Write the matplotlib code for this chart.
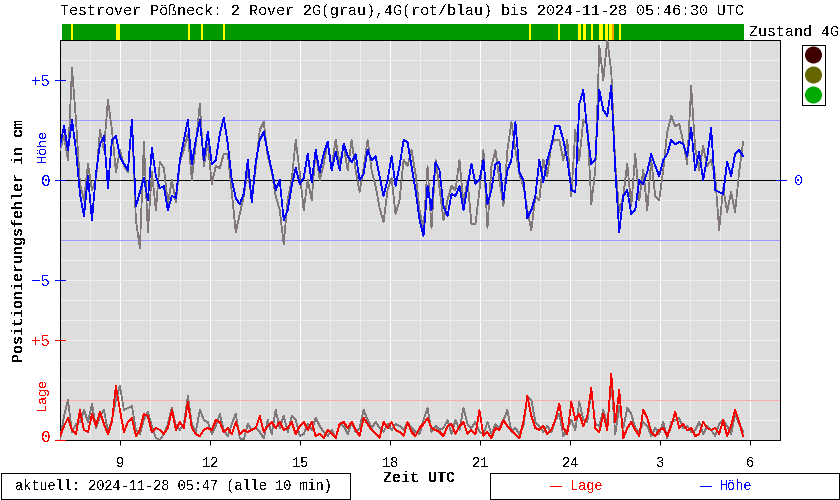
"""Testrover position error chart, rebuilt from the picture."""

import matplotlib
matplotlib.use("Agg")
import matplotlib.pyplot as plt
import matplotlib.patches as mpatches
import numpy as np

W, H = 840, 500
START_H = 7.0
END_H = 29.77
LAGE_BASE = -13.0  # the Lage panel shares the axes, its zero sits at -13
LW = 0.72  # one pixel at dpi 100
DATA_LW = 0.55

TITLE = "Testrover Pößneck: 2 Rover 2G(grau),4G(rot/blau) bis 2024-11-28 05:46:30 UTC"
FOOT_LEFT = "aktuell: 2024-11-28 05:47 (alle 10 min)"
HOUR_TICKS = [9, 12, 15, 18, 21, 24, 27, 30]
HOUR_LABELS = ["9", "12", "15", "18", "21", "24", "3", "6"]

# hours, from the strip above the plot
YELLOW_START = [7.37, 8.87, 11.27, 11.7, 12.43, 22.63, 23.6, 24.27, 24.43, 24.7, 24.97, 25.17, 25.3, 25.63]
YELLOW_LEN = [0.07, 0.13, 0.07, 0.07, 0.07, 0.07, 0.07, 0.1, 0.1, 0.06, 0.13, 0.1, 0.1, 0.07]
ORANGE_START = [25.4]
ORANGE_LEN = [0.07]

HOEHE_4G = [
    1.7, 2.7, 1.5, 3.0, 1.5, -0.7, -1.8, 0.2, -2.0, 0.3, 1.8, 2.2, -0.4, 2.0, 2.2, 1.2, 0.8, 0.5, 3.0,
    -1.3, -0.6, 0.1, -1.0, 1.6, 0.2, -0.4, -0.3, -1.5, -0.8, -0.9, 1.0, 2.0, 3.0, 0.8, 2.0, 3.0, 1.0,
    2.4, 0.8, 1.0, 2.3, 3.1, 1.8, 0.0, -0.9, -1.2, -0.7, 1.0, -1.1, 0.9, 2.0, 2.4, 1.4, 0.5, -0.5,
    0.0, -2.0, -1.5, -0.3, 0.6, -0.2, 0.1, 1.3, -0.1, 1.5, 0.4, 1.3, 1.9, 0.5, 1.4, 0.5, 1.8, 1.2, 0.9,
    1.3, 0.0, 0.3, 1.5, 1.0, 1.2, 0.2, -0.8, 0.0, 1.2, -0.3, 0.7, 2.0, 1.9, 0.7, -0.5, -2.0, -2.8, -0.3,
    -1.5, 0.9, 0.5, -1.3, -1.8, -0.7, -0.8, -0.3, -1.5, -0.3, 0.8, -0.2, 0.0, 1.0, -1.2, -0.5, 0.8, 0.9,
    -1.0, 0.5, 1.0, 2.9, 0.4, 0.0, -1.9, -1.5, -0.8, 1.0, -0.1, 1.0, 1.7, 2.7,
    2.7, 2.0, 1.0, -0.5, -0.6, 3.8, 4.5, 2.4, 0.8, 1.0, 4.5, 3.5, 3.2, 4.7, 0.5, -2.6, -0.8, -0.5, -1.7,
    -1.5, 0.0, -0.2, 0.4, 1.3, 0.7, 0.2, 1.0, 1.3, 2.0, 1.8, 1.9, 1.8, 1.2, 2.6, 0.5, 1.4, 0.0, 1.1, 2.6,
    -0.5, -0.6, -0.7, 0.9, 0.2, 1.3, 1.5, 1.2,
]
HOEHE_2G = [
    1.5, 2.2, 1.0, 5.6, 3.0, -0.2, -1.0, 0.8, -0.5, 0.0, 2.5, 1.5, 4.0, 2.5, 0.4, 1.5, 0.7, 0.4, 3.0,
    -2.0, -3.4, 1.9, -2.6, 0.4, -1.5, 0.9, 0.6, -1.2, 0.0, -1.1, 0.9, 1.5, 2.3, 0.0, 1.8, 3.8, 0.7, 1.8,
    -0.2, 0.7, 0.6, 1.3, 1.3, -0.6, -2.6, -1.7, -0.8, 0.5, -1.0, 0.6, 2.5, 2.9, 1.2, 0.4, -0.8,
    -1.5, -3.2, -1.0, 0.0, 2.0, 0.4, -1.5, 0.0, -1.0, 1.5, 0.0, 0.8, 1.9, 0.6, 2.0, 0.8, 1.7, 0.5, 2.0,
    0.5, -0.6, 0.6, 2.0, 0.5, -0.3, -1.4, -2.1, -0.5, 0.1, -1.7, -1.0, 1.0, 0.7, 1.5, 0.3, -1.5, -2.5,
    0.7, -2.4, 1.0, -0.4, -2.0, -1.0, -0.3, -0.5, 1.0, -1.2, 0.0, -2.2, -2.2, -0.5, 1.5, -2.4, 0.7, 1.5,
    0.0, -1.3, 1.5, 2.9, 1.5, 0.3, -0.3, -1.5, -2.5, -0.8, -1.0, 1.0, 0.2, 1.8, 2.0,
    2.0, 1.0, 2.0, -0.8, 2.5, 1.0, 3.0, 2.8, -1.2, 0.5, 6.7, 5.0, 7.0, 5.4, 0.8, -1.6, -0.8, 0.8, -1.3,
    1.3, -1.0, 0.5, -1.5, 1.0, -0.8, -1.0, 0.5, 2.4, 3.2, 2.7, 2.8, 1.9, 0.8, 4.7, 1.6, 0.5, 1.7, 0.7, 1.0,
    0.2, -2.5, -0.4, -1.6, -0.6, -1.6, 0.4, 1.9,
]
LAGE_4G = [
    0.2, 0.7, 1.1, 0.5, 0.3, 1.5, 0.5, 0.4, 1.3, 0.7, 1.4, 0.8, 0.3, 0.9, 2.7, 1.5, 0.4, 0.9, 1.1, 0.2,
    0.5, 1.3, 1.2, 0.4, 0.6, 0.5, 0.3, 0.6, 1.5, 0.5, 0.9, 0.6, 1.9, 0.6, 0.3, 0.2, 0.5, 0.6, 0.5, 1.0,
    0.9, 0.4, 0.6, 0.3, 0.9, 0.3, 0.5, 0.4, 0.5, 0.6, 1.2, 0.4, 0.7, 0.9, 0.6, 0.9, 0.5, 0.6, 0.9, 0.3,
    0.7, 0.9, 0.5, 0.9, 0.2, 0.3, 0.1, 0.5, 0.3, 0.1, 0.8, 0.9, 0.6, 0.9, 0.5, 0.2, 1.1, 0.8, 0.5, 0.3,
    0.1, 0.9, 0.6, 0.9, 0.5,
    0.4, 0.2, 0.9, 0.4, 0.2, 0.6, 0.8, 1.1, 0.6, 0.5, 0.4, 0.2, 0.7, 0.8, 0.3, 0.7, 0.9, 0.3, 0.5, 0.3,
    1.5, 0.2, 0.4, 0.1, 0.6, 0.5, 1.0, 0.7, 0.5, 0.3, 0.1, 0.9, 2.2, 1.2, 0.6, 0.5, 0.7, 0.3, 0.5, 1.0,
    1.8, 0.6, 0.3, 1.9, 1.0, 1.3, 0.7, 1.2, 2.6, 0.6, 0.4, 1.3, 0.5, 3.3, 0.9, 2.5, 0.1, 0.6, 0.9, 0.5,
    0.2, 1.5, 1.1, 0.4, 0.2, 0.5, 0.6, 0.2, 0.7, 1.4, 0.6, 0.8, 0.5, 0.6, 0.2, 0.3, 0.9, 0.6, 0.5, 0.6,
    0.3, 1.0, 0.2, 0.7, 1.5, 0.9, 0.2,
]
LAGE_2G = [
    0.0, 1.2, 2.0, 0.4, 0.8, 0.9, 1.5, 0.9, 1.8, 0.6, 1.2, 1.5, 0.4, 1.0, 2.0, 2.7, 1.5, 1.6, 1.7, 0.5,
    0.3, 1.0, 1.4, 0.7, 0.1, 0.0, 0.3, 0.8, 1.6, 0.7, 0.5, 0.8, 2.2, 0.8, 0.4, 1.5, 1.0, 0.9, 0.3, 0.7,
    1.3, 0.5, 0.2, 0.8, 1.3, 0.1, 0.0, 0.8, 0.5, 0.6, 0.4, 0.1, 1.0, 0.3, 1.5, 0.6, 1.2, 0.4, 1.2, 1.0,
    0.2, 0.3, 0.8, 0.5, 1.1, 0.7, 0.4, 0.2, 0.5, 0.1, 0.8, 0.7, 0.3, 0.9, 0.4, 0.6, 1.5, 1.0, 0.6, 0.9,
    0.6, 0.4, 0.8, 0.5, 0.8,
    0.7, 0.5, 0.9, 0.6, 0.4, 0.3, 1.0, 1.6, 0.4, 0.7, 0.5, 0.6, 1.0, 0.3, 1.0, 0.5, 1.6, 0.8, 0.6, 0.9,
    0.4, 0.3, 0.9, 0.3, 0.8, 0.6, 1.0, 1.5, 0.4, 0.6, 0.3, 0.7, 2.2, 2.0, 0.9, 0.7, 0.4, 0.7, 0.4, 1.0,
    1.3, 0.2, 0.5, 1.0, 0.5, 1.9, 1.0, 0.9, 2.5, 0.8, 0.7, 1.5, 0.8, 2.9, 0.3, 1.7, 0.6, 1.6, 1.3, 0.6,
    0.4, 0.9, 0.7, 0.2, 0.6, 0.3, 0.9, 0.1, 0.9, 1.0, 1.1, 0.6, 0.7, 0.4, 0.5, 0.9, 0.3, 0.7, 0.5, 0.2,
    0.8, 1.0, 0.7, 0.3, 1.3, 0.8, 0.4,
]

BG = "#dddddd"
GRAU = "#807878"
HELLBLAU = "#9999ff"
ROSA = "#ffaaaa"
GRUEN = "#009900"

plt.rcParams["font.family"] = ["Liberation Mono", "DejaVu Sans Mono"]
plt.rcParams["text.antialiased"] = False


def series_x(values):
    return np.linspace(START_H, END_H, len(values))


def px_axes(fig, left, top, right, bottom, **kw):
    return fig.add_axes(
        [left / W, 1 - bottom / H, (right - left) / W, (bottom - top) / H], **kw
    )


fig = plt.figure(figsize=(W / 100, H / 100), dpi=100)

# overlay in pixel coordinates for the boxes, lamps and free labels
deco = px_axes(fig, 0, 0, W, H, zorder=5)
deco.set_xlim(0, W)
deco.set_ylim(H, 0)
deco.axis("off")
deco.patch.set_alpha(0)

ax = px_axes(fig, 60, 40, 780, 440, zorder=2, facecolor=BG)
ax.set_xlim(START_H, 31)
ax.set_ylim(-13, 7)

for h in np.arange(8, 31):
    ax.axvline(h, color="white" if h % 3 == 0 else "#eeeeee", lw=LW, aa=False, zorder=1)
for v in np.arange(-12, 7):
    ax.axhline(v, color="#eeeeee", lw=LW, aa=False, zorder=1)
for v in (3, -3):
    ax.axhline(v, color=HELLBLAU, lw=LW, aa=False, zorder=2)
ax.axhline(LAGE_BASE + 2, color=ROSA, lw=LW, aa=False, zorder=2)
ax.axhline(0, color="black", lw=LW, aa=False, zorder=2)

ax.plot(series_x(HOEHE_2G), HOEHE_2G, color=GRAU, lw=DATA_LW, aa=False, zorder=3)
ax.plot(series_x(HOEHE_4G), HOEHE_4G, color="#0000ff", lw=DATA_LW, aa=False, zorder=4)
ax.plot(series_x(LAGE_2G), np.array(LAGE_2G) + LAGE_BASE, color=GRAU, lw=DATA_LW, aa=False, zorder=3)
ax.plot(series_x(LAGE_4G), np.array(LAGE_4G) + LAGE_BASE, color="#ff0000", lw=DATA_LW, aa=False, zorder=4)

ax.set_xticks(HOUR_TICKS, HOUR_LABELS)
ax.set_yticks([])
ax.tick_params(axis="x", length=3.6, width=LW, labelsize=9.8, pad=8)
for s in ax.spines.values():
    s.set_linewidth(LW)

# status strip
strip = px_axes(fig, 60, 24, 780, 40, zorder=1)
strip.set_xlim(START_H, 31)
strip.set_ylim(0, 1)
strip.axis("off")
strip.broken_barh([(START_H + 2 / 30, END_H - START_H - 1 / 30)], (0, 1), color=GRUEN, lw=0)
strip.broken_barh(list(zip(YELLOW_START, YELLOW_LEN)), (0, 1), color="#ffff00", lw=0)
strip.broken_barh(list(zip(ORANGE_START, ORANGE_LEN)), (0, 1), color="#ff9900", lw=0)

# y axis ticks and labels
for y, lab, col in [(80, "+5", "blue"), (180, "0", "blue"), (280, "\u22125", "blue"),
                    (340, "+5", "red"), (437, "0", "red")]:
    deco.text(50.5, y + 1, lab, color=col, fontsize=11.4, ha="right", va="center")
for y, col in [(80, "blue"), (180, "blue"), (280, "blue"), (340, "red"), (440, "red")]:
    deco.plot([55, 65], [y, y], color=col, lw=LW, aa=False)
deco.plot([776, 786], [180, 180], color="blue", lw=LW, aa=False)
deco.text(799, 181, "0", color="blue", fontsize=10.6, ha="center", va="center")
deco.text(43, 146, "Höhe", color="blue", fontsize=9.6, rotation=90, ha="center", va="center")
deco.text(43, 394, "Lage", color="red", fontsize=9.6, rotation=90, ha="center", va="center")
deco.text(19, 240, "Positionierungsfehler in cm", fontsize=10.8, fontweight="bold",
          rotation=90, ha="center", va="center")

# header and footer text
deco.text(60, 11, TITLE, fontsize=10.85, ha="left", va="center")
deco.text(749, 32, "Zustand 4G", fontsize=10.85, ha="left", va="center")
deco.text(419, 478, "Zeit UTC", fontsize=10.8, fontweight="bold", ha="center", va="center")
deco.text(15, 486, FOOT_LEFT, fontsize=9.8, ha="left", va="center")
deco.text(570, 486, "Lage", color="red", fontsize=9.8, ha="left", va="center")
deco.text(720, 486, "Höhe", color="blue", fontsize=9.8, ha="left", va="center")
deco.plot([550, 561], [486, 486], color="red", lw=LW, aa=False)
deco.plot([700, 711], [486, 486], color="blue", lw=LW, aa=False)

for box in [(1, 473, 349, 26), (490, 473, 349, 26)]:
    deco.add_patch(mpatches.Rectangle(box[:2], box[2], box[3], fill=False, ec="black", lw=LW, aa=False))

# traffic light
deco.add_patch(mpatches.Rectangle((802, 45), 23, 60, fill=False, ec="black", lw=LW, aa=False))
for y, col in [(55, "#400000"), (75, "#666600"), (95, "#00aa00")]:
    deco.add_patch(mpatches.Circle((813.5, y), 8.5, fc=col, ec="none"))

fig.savefig("out.png", dpi=100)
